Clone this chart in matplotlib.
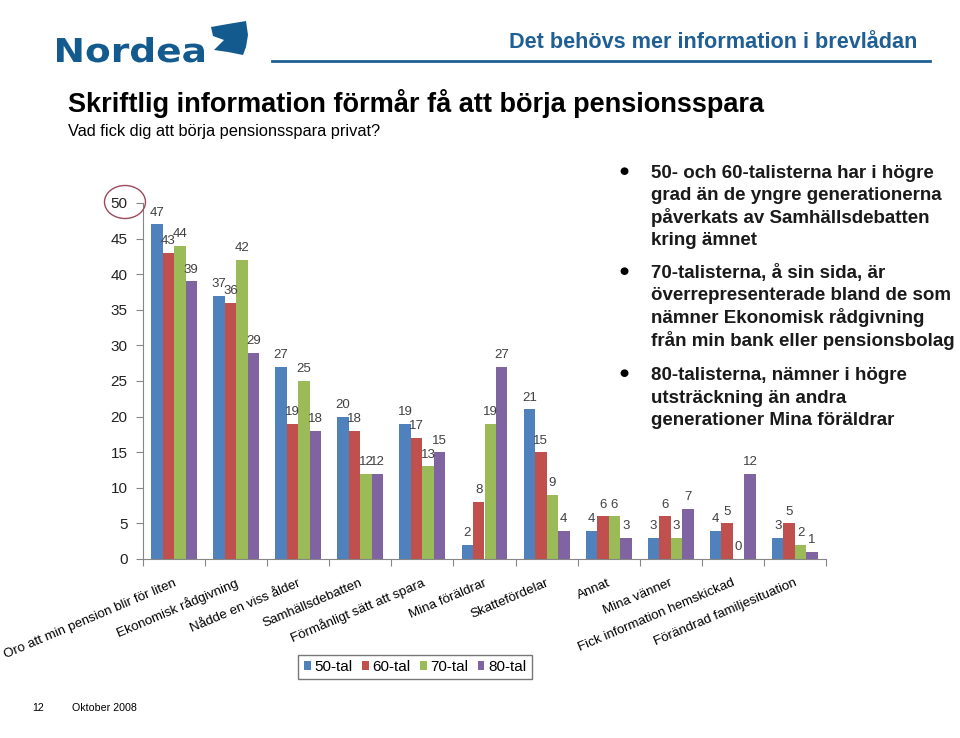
import matplotlib
matplotlib.use("Agg")
import matplotlib.pyplot as plt
from matplotlib.patches import Ellipse, Polygon, PathPatch
from matplotlib.textpath import TextPath
from matplotlib.font_manager import FontProperties
from matplotlib.transforms import Affine2D
import numpy as np

plt.rcParams['font.family'] = ['Liberation Sans', 'DejaVu Sans']

categories = ["Oro att min pension blir för liten", "Ekonomisk rådgivning",
              "Nådde en viss ålder", "Samhällsdebatten", "Förmånligt sätt att spara",
              "Mina föräldrar", "Skattefördelar", "Annat", "Mina vänner",
              "Fick information hemskickad", "Förändrad familjesituation"]
series_names = ["50-tal", "60-tal", "70-tal", "80-tal"]
s50 = [47, 37, 27, 20, 19, 2, 21, 4, 3, 4, 3]
s60 = [43, 36, 19, 18, 17, 8, 15, 6, 6, 5, 5]
s70 = [44, 42, 25, 12, 13, 19, 9, 6, 3, 0, 2]
s80 = [39, 29, 18, 12, 15, 27, 4, 3, 7, 12, 1]
yticks = [0, 5, 10, 15, 20, 25, 30, 35, 40, 45, 50]
colors = ["#4F81BD", "#C0504D", "#9BBB59", "#8064A2"]

W, H = 960, 738
fig = plt.figure(figsize=(9.6, 7.38), dpi=100)

def fx(x): return x / W
def fy(y): return 1 - y / H

logo_blue = "#135B8F"
# Nordea logo text, stretched to the logo's proportions
tp = TextPath((0, 0), "Nordea", size=20, prop=FontProperties(family='DejaVu Sans', weight='bold'))
ext = tp.get_extents()
sx = (204 - 57) / ext.width
sy = 24 / 14.6
logo = PathPatch(tp, facecolor=logo_blue, edgecolor='none',
                 transform=Affine2D().translate(-ext.x0, 0).scale(sx, sy).translate(57, H - 62))
fig.patches.append(logo)
sail = Polygon([(fx(211), fy(27)), (fx(228), fy(24)), (fx(246), fy(21)), (fx(248), fy(35)),
                (fx(246), fy(47)), (fx(243), fy(55)), (fx(228), fy(52)), (fx(214), fy(50)),
                (fx(224), fy(40)), (fx(213), fy(36))],
               closed=True, transform=fig.transFigure, facecolor=logo_blue, edgecolor='none')
fig.patches.append(sail)
fig.text(fx(917), fy(48), "Det behövs mer information i brevlådan", fontsize=15.6,
         fontweight='bold', color="#1F5F94", ha='right', va='baseline')
fig.add_artist(plt.Line2D([fx(272), fx(930)], [fy(61), fy(61)], color="#1F5F94", lw=2,
                          transform=fig.transFigure))

fig.text(fx(68), fy(112), "Skriftlig information förmår få att börja pensionsspara",
         fontsize=19.5, fontweight='bold', color='black', ha='left', va='baseline')
fig.text(fx(68), fy(136), "Vad fick dig att börja pensionsspara privat?",
         fontsize=11.75, color='black', ha='left', va='baseline')

# Bullets
bullets = [
    (178, ["50- och 60-talisterna har i högre", "grad än de yngre generationerna",
           "påverkats av Samhällsdebatten", "kring ämnet"]),
    (278, ["70-talisterna, å sin sida, är", "överrepresenterade bland de som",
           "nämner Ekonomisk rådgivning", "från min bank eller pensionsbolag"]),
    (380, ["80-talisterna, nämner i högre", "utsträckning än andra",
           "generationer Mina föräldrar"]),
]
for yb, lines in bullets:
    fig.text(fx(624), fy(yb - 7), "●", fontsize=7.5, color='black', ha='center', va='center',
             family=['DejaVu Sans'])
    for k, line in enumerate(lines):
        fig.text(fx(651), fy(yb + 22.5 * k), line, fontsize=13.5, fontweight='bold',
                 color='#1a1a1a', ha='left', va='baseline')

# Axes
ax = fig.add_axes([fx(143), fy(559), fx(826) - fx(143), fy(203) - fy(559)])
n = len(categories)
x = np.arange(n)
bw = 0.185
all_series = [s50, s60, s70, s80]
for i, (vals, c, name) in enumerate(zip(all_series, colors, series_names)):
    pos = x + (i - 1.5) * bw
    ax.bar(pos, vals, width=bw, color=c, label=name, edgecolor='none')
    for p, v in zip(pos, vals):
        ax.text(p, v + 0.8, str(v), ha='center', va='bottom', fontsize=9.5, color='#404040')

ax.set_xlim(-0.5, n - 0.5)
ax.set_ylim(0, 50)
ax.set_yticks(yticks)
ax.set_yticklabels([str(t) for t in yticks], fontsize=11, color='#222222')
ax.set_xticks(np.arange(n + 1) - 0.5)
ax.set_xticklabels([])
ax.tick_params(axis='x', length=5, color='#868686', direction='out')
ax.tick_params(axis='y', length=5, color='#868686', direction='out', pad=6)
for s in ['top', 'right']:
    ax.spines[s].set_visible(False)
for s in ['left', 'bottom']:
    ax.spines[s].set_color('#868686')
ax.set_facecolor('none')

for i, cat in enumerate(categories):
    ax.annotate(cat, xy=(i, 0), xycoords='data', xytext=(1, -17), textcoords='offset points',
                rotation=23, rotation_mode='anchor', ha='right', va='center', fontsize=9.6,
                color='black')

# Circle around 50
fig.add_artist(Ellipse((fx(125), fy(202)), fx(41), 33 / H, transform=fig.transFigure,
                       fill=False, edgecolor="#9B4A5A", lw=1))

# Legend
leg = fig.legend(*ax.get_legend_handles_labels(), loc='center', bbox_to_anchor=(fx(415), fy(667)),
                 ncol=4, fontsize=11, frameon=True, fancybox=False, edgecolor='#555555',
                 handlelength=0.45, handleheight=0.45, handletextpad=0.25, columnspacing=0.6,
                 borderpad=0.35)
leg.get_frame().set_linewidth(1)

# Footer
fig.text(fx(38), fy(708), "12", fontsize=7.7, ha='center', va='center')
fig.text(fx(72), fy(708), "Oktober 2008", fontsize=7.7, ha='left', va='center')

fig.savefig("out.png", dpi=100)
